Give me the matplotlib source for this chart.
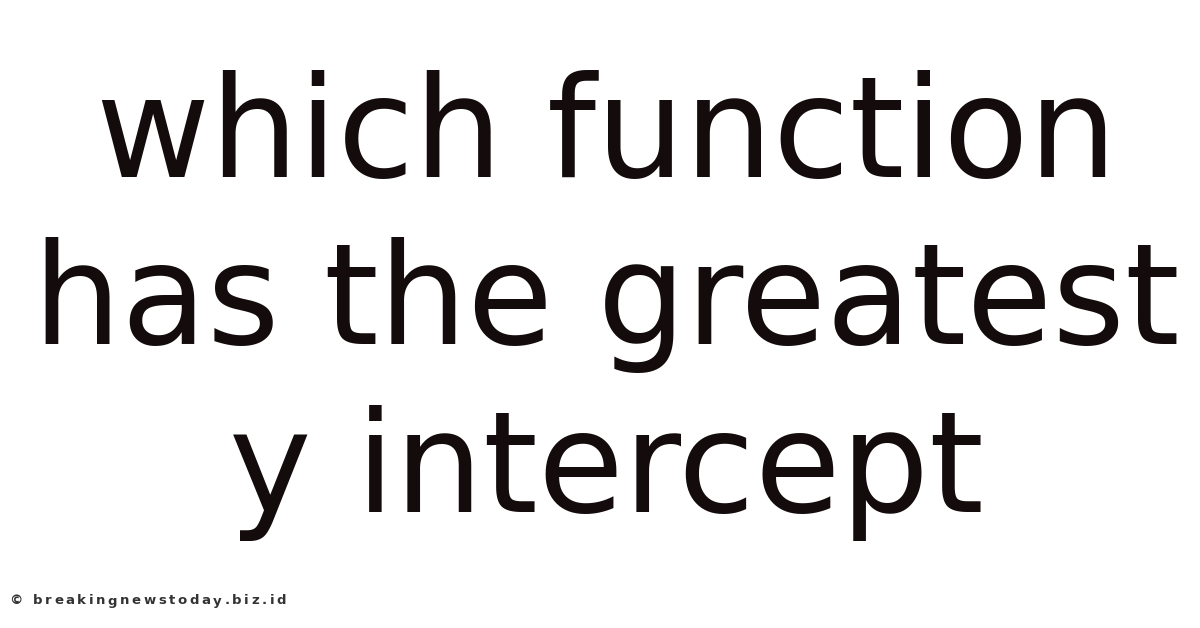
import matplotlib
matplotlib.use("Agg")
import matplotlib.pyplot as plt

title_lines = ["which function", "has the greatest", "y intercept"]
baselines_px = [177, 344, 512]   # baseline rows in the 628 px tall image
watermark = "\u00a9 breakingnewstoday.biz.id"

W, H = 1200, 628
fig = plt.figure(figsize=(W / 100, H / 100), dpi=100)
fig.patch.set_facecolor("white")

for txt, by in zip(title_lines, baselines_px):
    fig.text(0.505, 1 - by / H, txt, ha="center", va="baseline", fontsize=100.5,
             family="DejaVu Sans", color="#140c0c")

# watermark is drawn with wide letter spacing, one glyph at a time
renderer = fig.canvas.get_renderer()
x_px, tracking = 9, 2.6
for ch in watermark:
    t = fig.text(x_px / W, 1 - 601 / H, ch, ha="left", va="center",
                 fontsize=9.5, family="DejaVu Sans", color="#333333",
                 fontweight="bold" if ch != " " else "normal")
    if ch == " ":
        x_px += 5 + tracking
    else:
        x_px += t.get_window_extent(renderer).width + tracking

plt.savefig("out.png", dpi=100, facecolor="white")
